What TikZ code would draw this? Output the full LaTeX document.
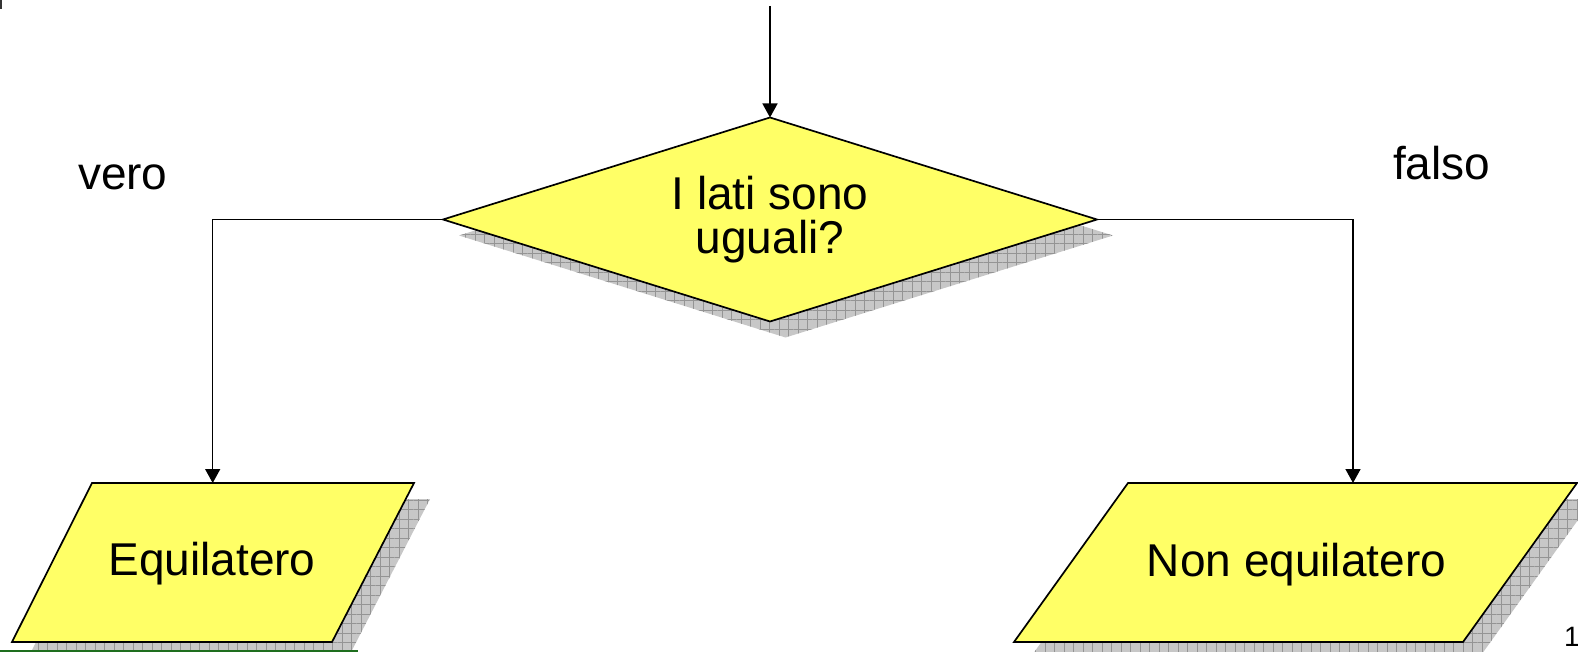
\documentclass[tikz,border=0pt]{standalone}
\usepackage{fontspec}
\setmainfont{Liberation Sans}
\usetikzlibrary{shapes.geometric,arrows.meta,patterns.meta}
\definecolor{boxyellow}{HTML}{FFFF66}
\definecolor{footgreen}{RGB}{30,110,30}
\begin{document}
\begin{tikzpicture}[x=1pt,y=-1pt,
  shadowfill/.style={fill=black!22,
    postaction={pattern={Hatch[angle=0,distance=9.5pt,line width=0.7pt]},pattern color=black!42}},
  shapebox/.style={draw=black,line width=1.7pt,fill=boxyellow},
  conn/.style={line width=1.5pt,-{Triangle[length=14pt,width=15pt]}},
  lbl/.style={font=\fontsize{46}{44}\selectfont,inner sep=0pt,outer sep=0pt}]
\useasboundingbox (0,0) rectangle (1578,652);
\clip (0,0) rectangle (1578,652);
% shadows
\path[shadowfill] (459,235.5) -- (785.5,133.5) -- (1113,235.5) -- (785.5,337.5) -- cycle;
\path[shadowfill] (108,499) -- (430,499) -- (348,658) -- (28,658) -- cycle;
\path[shadowfill] (1144,499) -- (1593,499) -- (1479,658) -- (1030,658) -- cycle;
% decision
\node[diamond,shapebox,lbl,minimum width=654pt,minimum height=204pt,shape aspect=3.2,align=center] (dia) at (770,219.5) {I lati sono\\uguali?};
% outputs
\draw[shapebox] (92,483) -- (414,483) -- (332,642) -- (12,642) -- cycle;
\node[lbl,anchor=base] (eq) at (212,575) {Equilatero};
\coordinate (eqin) at (212.7,483);
\draw[shapebox] (1128,483) -- (1577,483) -- (1463,642) -- (1014,642) -- cycle;
\node[lbl,anchor=base] (neq) at (1296.5,576) {Non equilatero};
\coordinate (neqin) at (1353,483);
% connectors
\coordinate (start) at (770,6);
\draw[conn] (start) -- (dia.north);
\draw[conn] (dia.west) -| (eqin);
\draw[conn] (dia.east) -| (neqin);
% labels
\node[lbl,anchor=base west] (vero) at (78,190) {vero};
\node[lbl,anchor=base west] (falso) at (1393,180) {falso};
% slide decorations
\node[font=\fontsize{28}{30}\selectfont,inner sep=0pt,anchor=base west] (pg) at (1564,646) {1};
\fill[footgreen] (0,649.5) rectangle (358,652);
\fill[black!80] (0,0) rectangle (1.5,9);
\end{tikzpicture}
\end{document}
